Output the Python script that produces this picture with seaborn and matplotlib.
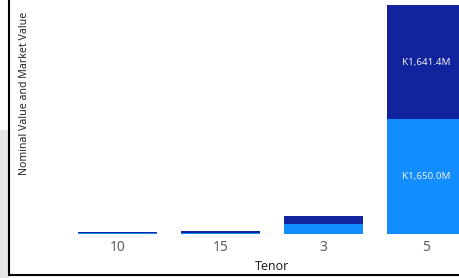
import numpy as np
import pandas as pd
import matplotlib
matplotlib.use('Agg')
import matplotlib.pyplot as plt
import seaborn as sns
from matplotlib.patches import Rectangle
from matplotlib.lines import Line2D

# values (millions)
tenor = ['10', '15', '3', '5']
nominal_value = [2.0, 12.0, 130.0, 1650.0]
market_value = [14.0, 25.0, 118.0, 1641.4]
market_labels = ['', '', '', 'K1,641.4M']
nominal_labels = ['', '', '', 'K1,650.0M']

dark = '#12239E'
light = '#118DFF'

sns.set_style('white')
plt.rcParams['font.family'] = ['Noto Sans', 'DejaVu Sans']

df = pd.DataFrame({'Tenor': tenor, 'Nominal': nominal_value, 'Market': market_value})
df['Total'] = df['Nominal'] + df['Market']

fig = plt.figure(figsize=(4.6, 2.78), dpi=100)
W, H = 460, 278
# axes spills past right edge like the cropped original
left, right, bottom, top = 66, 478, 233.5, 5.2
ax = fig.add_axes([left / W, 1 - bottom / H, (right - left) / W, (bottom - top) / H])

sns.barplot(data=df, x='Tenor', y='Total', order=tenor, color=dark, width=0.77,
            saturation=1, linewidth=0, ax=ax)
sns.barplot(data=df, x='Tenor', y='Nominal', order=tenor, color=light, width=0.77,
            saturation=1, linewidth=0, ax=ax)

# segment labels, centred in each stacked piece
for i, p in enumerate(ax.containers[1]):
    xc = p.get_x() + p.get_width() / 2
    if nominal_labels[i]:
        ax.text(xc, nominal_value[i] / 2, nominal_labels[i], ha='center', va='center',
                color='#EEEEEE', fontsize=7)
    if market_labels[i]:
        ax.text(xc, nominal_value[i] + market_value[i] / 2, market_labels[i],
                ha='center', va='center', color='#EEEEEE', fontsize=7)

ax.set_xlim(-0.5, 3.5)
ax.set_ylim(0, df['Total'].max())
ax.set_yticks([])
ax.set_xlabel('')
ax.set_ylabel('')
ax.tick_params(axis='x', length=0, pad=5, labelsize=10, labelcolor='#605E5C')
sns.despine(ax=ax, left=True, bottom=True)
ax.patch.set_alpha(0)

fig.text(272 / W, 1 - 266 / H, 'Tenor', ha='center', va='center',
         fontsize=9, color='#252423', fontweight='semibold')
fig.text(24.5 / W, 1 - 93 / H, 'Nominal Value and Market Value', rotation=90,
         ha='center', va='center', fontsize=7.6, color='#252423')

# frame bits around the visual
fig.patches.append(Rectangle((0, 0), 9 / W, (278 - 130) / H, transform=fig.transFigure,
                             color='#E6E6E6', zorder=0))
fig.lines.append(Line2D([9.5 / W, 9.5 / W], [1 - 274.5 / H, 1], transform=fig.transFigure,
                        color='black', lw=1.5))
fig.lines.append(Line2D([9.5 / W, 1], [1 - 274.5 / H, 1 - 274.5 / H], transform=fig.transFigure,
                        color='black', lw=1.5))

fig.savefig('out.png', dpi=100)
